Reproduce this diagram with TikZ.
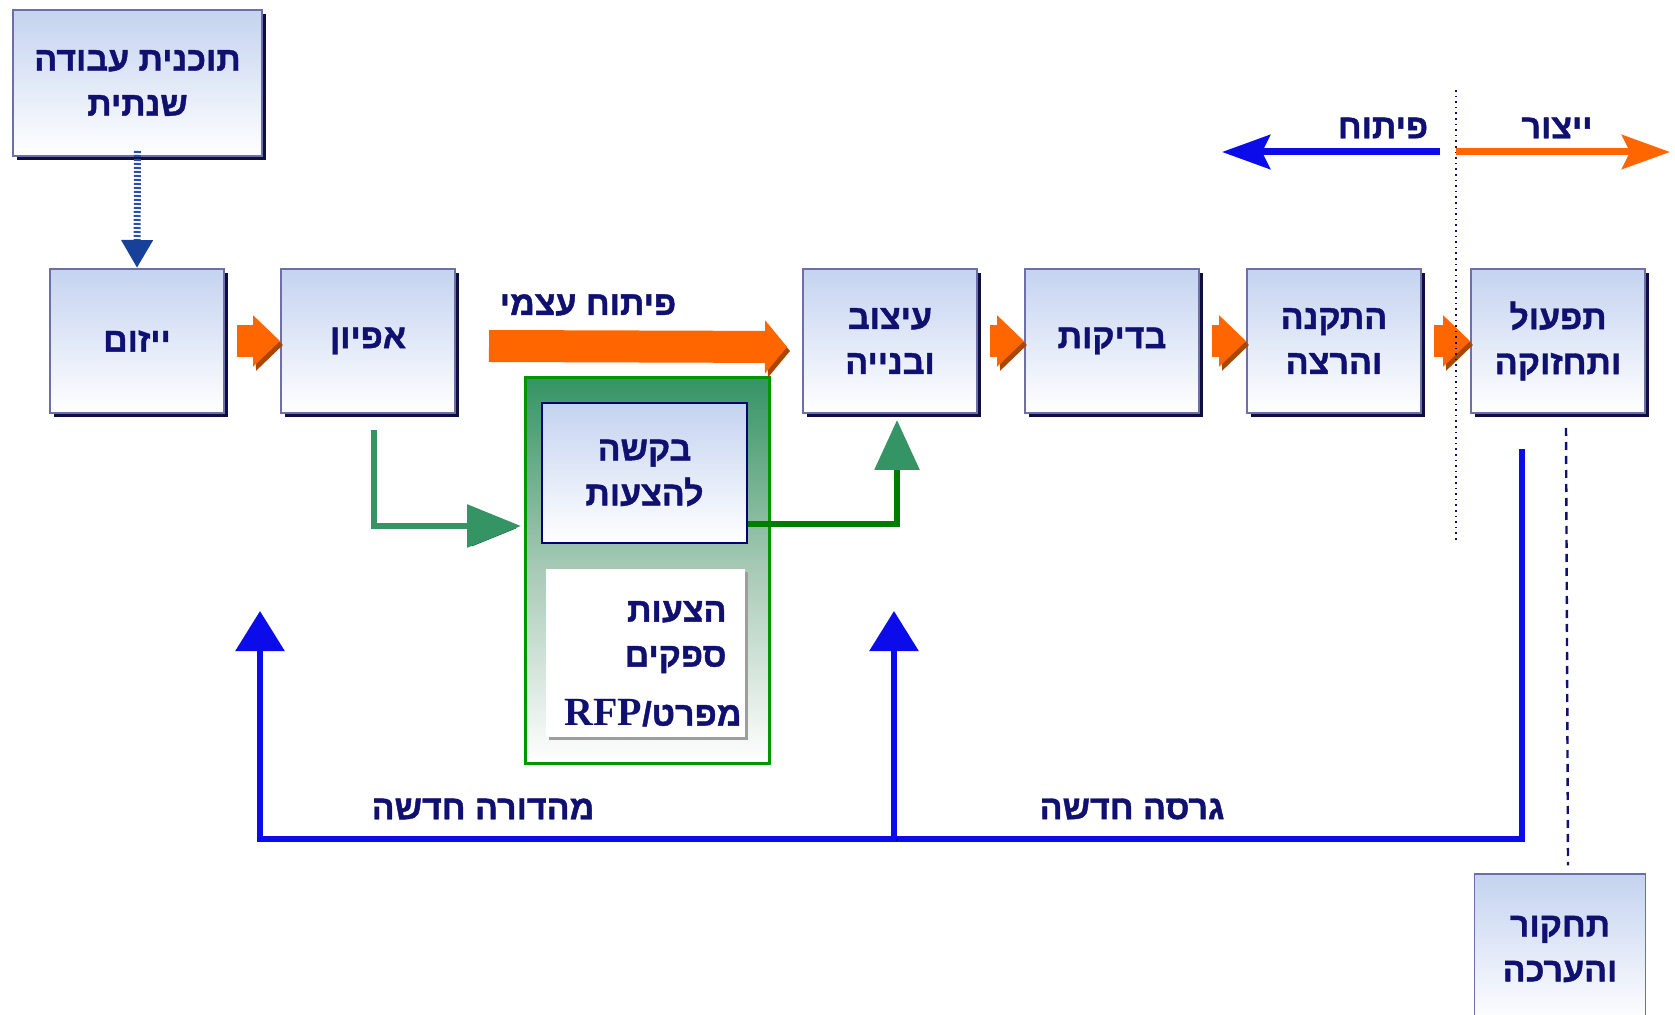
\documentclass[tikz,border=0pt]{standalone}
\usepackage{fontspec}
\usetikzlibrary{arrows.meta,shadows}
\newfontfamily\hebfont[Script=Hebrew,BoldFeatures={FakeBold=1.2}]{Liberation Sans}
\newfontfamily\rfpfont{Liberation Serif}
\TeXXeTstate=1
\newcommand{\heb}[1]{\beginR #1\endR}
\definecolor{navyText}{RGB}{16,16,112}
\definecolor{boxTop}{RGB}{196,211,240}
\definecolor{boxLine}{RGB}{110,110,168}
\definecolor{boxShade}{RGB}{14,14,64}
\definecolor{orangeMain}{RGB}{255,102,0}
\definecolor{orangeDark}{RGB}{170,70,0}
\definecolor{blueMain}{RGB}{12,12,235}
\definecolor{blueDark}{RGB}{0,0,120}
\definecolor{greenSea}{RGB}{52,148,100}
\definecolor{greenSeaDark}{RGB}{36,100,68}
\definecolor{greenLine}{RGB}{0,125,0}
\definecolor{greenLineDark}{RGB}{0,80,0}
\definecolor{greenBorder}{RGB}{0,150,0}
\definecolor{greenLight}{RGB}{110,200,110}
\definecolor{greenMid}{RGB}{168,202,182}
\definecolor{dotBlue}{RGB}{40,80,170}
\definecolor{headBlue}{RGB}{22,64,154}

\begin{document}
\begin{tikzpicture}
[x=0.5pt,y=-0.5pt,
  boxFace/.style={shape=rectangle,draw=boxLine,line width=1pt,top color=boxTop,bottom color=white,%
    align=center,text=navyText,font=\hebfont\bfseries\fontsize{17}{22.5}\selectfont},
  boxDecorate/.style={boxFace,minimum width=87pt,minimum height=72pt,%
    drop shadow={shadow xshift=1.8pt,shadow yshift=-1.8pt,fill=boxShade,opacity=1}},
  labelDecorate/.style={text=navyText,font=\hebfont\bfseries\fontsize{17}{20}\selectfont},
  orangeDecorate/.style={draw=orangeMain,line width=16pt,-{Triangle[length=13.5pt,width=25pt]},%
    preaction={draw=orangeDark,transform canvas={shift={(1.5pt,-2pt)}}}},
  bigOrange/.style={draw=orangeMain,line width=16pt,-{Triangle[length=11pt,width=26pt]},%
    preaction={draw=orangeDark,transform canvas={shift={(1.5pt,-2pt)}}}},
  topArrow/.style={line width=3.5pt,-{Stealth[length=24pt,width=17pt,inset=4pt]}},
  blueDecorate/.style={draw=blueMain,line width=3pt,-{Triangle[length=20pt,width=24pt]},%
    preaction={draw=blueDark,transform canvas={shift={(1.2pt,-1.2pt)}}}},
  greenSeaDecorate/.style={draw=greenSea,line width=3pt,-{Triangle[length=27pt,width=21pt]},%
    preaction={draw=greenSeaDark,transform canvas={shift={(1.2pt,-1.2pt)}}}},
  greenDecorate/.style={draw=greenLine,line width=3pt,-{Triangle[length=25pt,width=22pt,color=greenSea]},%
    preaction={draw=greenLineDark,transform canvas={shift={(1.2pt,-1.2pt)}}}},
  dotDecorate/.style={draw=dotBlue,line width=3.5pt,dash pattern=on 1pt off 1pt,%
    -{Triangle[length=14pt,width=15pt,color=headBlue]}}]
\useasboundingbox (0,0) rectangle (1675,1015);
\clip (0,0) rectangle (1675,1015);
%% nodes or vertices
\node (tv) at (137.5,83) [boxDecorate,minimum width=124.5pt,minimum height=73pt]
  {\heb{תוכנית עבודה}\\\heb{שנתית}};
\foreach \nodename/\x/\txt in {
  yz/137/{\heb{ייזום}},
  af/368/{\heb{אפיון}},
  ib/890/{\heb{עיצוב}\\\heb{ובנייה}},
  bd/1112/{\heb{בדיקות}},
  th/1334/{\heb{התקנה}\\\heb{והרצה}},
  tf/1558/{\heb{תפעול}\\\heb{ותחזוקה}}}
{
  \node (\nodename) at (\x,341) [boxDecorate] {\txt};
}
\node (tk) at (1560,949) [boxFace,line width=0.6pt,minimum width=85.5pt,minimum height=75pt]
  {\heb{תחקור}\\\heb{והערכה}};
%% request box
\node (gb) at (647,570.5) [draw=greenBorder,line width=1.5pt,top color=greenSea,bottom color=white,%
  middle color=greenMid,minimum width=122pt,minimum height=192.5pt,%
  drop shadow={shadow xshift=1.2pt,shadow yshift=-1.2pt,fill=greenLight,opacity=1}] {};
\node (bk) at (644.5,473) [boxFace,draw=blueDark,line width=0.6pt,minimum width=102.5pt,minimum height=70pt]
  {\heb{בקשה}\\\heb{להצעות}};
\node (hs) at (645.5,653) [fill=white,text=navyText,font=\hebfont\bfseries\fontsize{17}{22.5}\selectfont,%
  align=right,text width=81pt,minimum width=99.5pt,minimum height=84pt,%
  drop shadow={shadow xshift=1.5pt,shadow yshift=-1.5pt,fill=black!38,opacity=1}]
  {\rule{0pt}{21pt}\heb{הצעות}\\\heb{ספקים}\\[7pt]\heb{מפרט/\beginL{\rfpfont\bfseries\fontsize{20}{22}\selectfont RFP}\endL}};
%% labels
\node (lbSelf) at (588,305) [labelDecorate] {\heb{פיתוח עצמי}};
\node (lbDev) at (1383,128) [labelDecorate] {\heb{פיתוח}};
\node (lbProd) at (1557,128) [labelDecorate] {\heb{ייצור}};
\node (lbRel) at (483,809) [labelDecorate] {\heb{מהדורה חדשה}};
\node (lbVer) at (1132,809) [labelDecorate] {\heb{גרסה חדשה}};
\coordinate (sepTop) at (1456,90);
\coordinate (sepBot) at (1456,540);
\coordinate (devEnd) at (1222,152);
\coordinate (prodEnd) at (1670,152);
\coordinate (selfStart) at (489,346);
\coordinate (afOut) at (374,430);
\coordinate (gbIn) at (521,526);
\coordinate (tfOut) at (1522,449);
\coordinate (fbBase) at (894,839);
\coordinate (yzIn) at (260,611);
\coordinate (ibIn) at (894,611);
%% edges or lines
\path
\foreach \startnode/\endnode in {yz/af, ib/bd, bd/th, th/tf}
{
  (\startnode.east) edge[orangeDecorate,shorten <=6pt] (\endnode.west)
};
\draw[bigOrange] (selfStart) -- ([xshift=-7.5pt,yshift=-3pt]ib.west);
\draw[dotDecorate] ([yshift=3pt]tv.south) -- (yz.north);
\draw[greenSeaDecorate] (afOut) |- (gbIn);
\draw[greenDecorate] ([yshift=10pt]bk.south east) -| ([xshift=3.5pt,yshift=-3pt]ib.south);
\draw[blueDecorate] (tfOut) |- (yzIn |- fbBase) -- (yzIn);
\draw[blueDecorate] (fbBase) -- (ibIn);
\draw[navyText,line width=0.8pt,dotted] (sepTop) -- (sepBot);
\draw[navyText,line width=1.2pt,dash pattern=on 4pt off 3pt]
  ([xshift=4pt,yshift=-7pt]tf.south) -- ([xshift=4pt,yshift=4pt]tk.north);
\draw[topArrow,draw=blueMain,fill=blueMain] ([xshift=-8pt]sepTop |- devEnd) -- (devEnd);
\draw[topArrow,draw=orangeMain,fill=orangeMain] (sepTop |- prodEnd) -- (prodEnd);
\end{tikzpicture}
\end{document}
